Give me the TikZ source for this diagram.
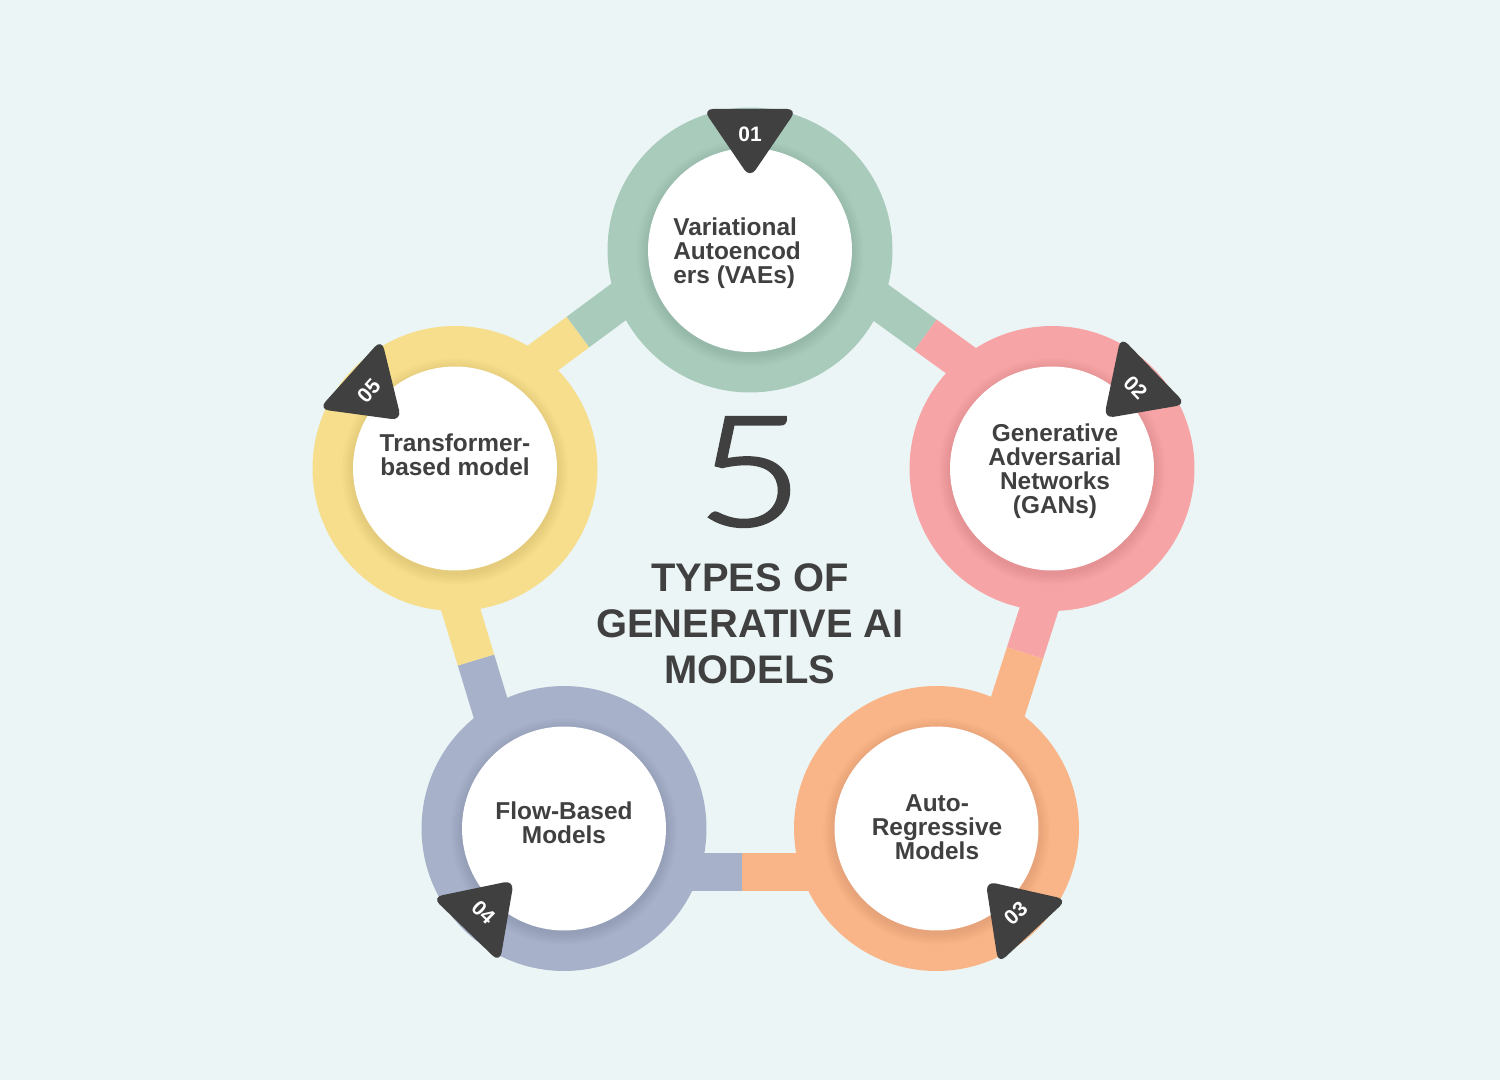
\documentclass[tikz,border=0pt]{standalone}
\usepackage{fontspec}
\usepackage{graphicx}
\setmainfont{Liberation Sans}
\newfontfamily\fivefont{Lato Light}[FakeBold=2]
\usetikzlibrary{calc}
\definecolor{bg}{HTML}{EBF5F5}
\definecolor{cgreen}{HTML}{A8CBBC}
\definecolor{cpink}{HTML}{F6A4A5}
\definecolor{corange}{HTML}{F9B587}
\definecolor{cblue}{HTML}{A7B2CA}
\definecolor{cyellow}{HTML}{F6DE8C}
\definecolor{dark}{HTML}{404040}
\tikzset{
  bar/.style={line width=0.76cm, line cap=butt},
  wcirc/.style={circle, fill=white, minimum size=4.08cm, inner sep=0pt},
  lbl/.style={font=\bfseries\fontsize{13.9}{13.6}\selectfont, text=dark, align=center, inner sep=0pt},
  badgefill/.style={fill=dark, rounded corners=0.2cm},
  badgetext/.style={font=\bfseries\fontsize{11.9}{12}\selectfont, text=white, inner sep=0pt}
}
\newcommand\mybadge[5]{% name, center, angle, text, textrot
  \begin{scope}[shift={(#2)}, rotate=#3-90]
    \fill[badgefill] (-47,141) -- (47,141) -- (0,72) -- cycle;
    \node[badgetext, rotate=#5] (#1) at (0,116) {#4};
  \end{scope}}
\newcommand\myshadow[1]{%
  \foreach \k in {1,...,9} {\fill[black, opacity=0.007] ($(#1)+(0,-3)$) circle[radius=2.04cm+\k*0.026cm];}}
\begin{document}
\begin{tikzpicture}[x=0.02cm,y=0.02cm]
\fill[bg] (0,0) rectangle (1500,1080);
\useasboundingbox (0,0) rectangle (1500,1080);
% ring centres
\coordinate (C1) at (750,830);
\coordinate (C2) at (1052,611.5);
\coordinate (C3) at (936.5,251.5);
\coordinate (C4) at (564,251.5);
\coordinate (C5) at (455,611.5);
% colour-change points on the connecting bars
\coordinate (M12) at (925.5,745);
\coordinate (M23) at (1025,427);
\coordinate (M34) at (742,208);
\coordinate (M45) at (476,420);
\coordinate (M51) at (578,748);
\coordinate (D12) at ($(M12)+(C2)-(C1)$);
\coordinate (D23) at ($(M23)+(C3)-(C2)$);
\coordinate (D34) at ($(M34)+(C4)-(C3)$);
\coordinate (D45) at ($(M45)+(C5)-(C4)$);
\coordinate (D51) at ($(M51)+(C1)-(C5)$);
% bars
\draw[bar, cgreen]  (M12) -- ($(M12)!(C1)!(D12)$);
\draw[bar, cpink]   (M12) -- ($(M12)!(C2)!(D12)$);
\draw[bar, cpink]   (M23) -- ($(M23)!(C2)!(D23)$);
\draw[bar, corange] (M23) -- ($(M23)!(C3)!(D23)$);
\draw[bar, corange] (M34) -- ($(M34)!(C3)!(D34)$);
\draw[bar, cblue]   (M34) -- ($(M34)!(C4)!(D34)$);
\draw[bar, cblue]   (M45) -- ($(M45)!(C4)!(D45)$);
\draw[bar, cyellow] (M45) -- ($(M45)!(C5)!(D45)$);
\draw[bar, cyellow] (M51) -- ($(M51)!(C5)!(D51)$);
\draw[bar, cgreen]  (M51) -- ($(M51)!(C1)!(D51)$);
% rings
\fill[cgreen]  (C1) circle[radius=2.85cm];
\fill[cpink]   (C2) circle[radius=2.85cm];
\fill[corange] (C3) circle[radius=2.85cm];
\fill[cblue]   (C4) circle[radius=2.85cm];
\fill[cyellow] (C5) circle[radius=2.85cm];
% shadows and white discs
\myshadow{C1}\myshadow{C2}\myshadow{C3}\myshadow{C4}\myshadow{C5}
\node[wcirc] (w1) at (C1) {};
\node[wcirc] (w2) at (C2) {};
\node[wcirc] (w3) at (C3) {};
\node[wcirc] (w4) at (C4) {};
\node[wcirc] (w5) at (C5) {};
% badges
\mybadge{b1}{C1}{90}{01}{0}
\mybadge{b2}{C2}{44}{02}{-46}
\mybadge{b3}{C3}{-47}{03}{43}
\mybadge{b4}{C4}{-134}{04}{-44}
\mybadge{b5}{C5}{138}{05}{48}
% labels
\node[lbl, align=left, anchor=west] (t1) at (673,827) {Variational\\Autoencod\\ers (VAEs)};
\node[lbl] (t2) at (1055,609) {Generative\\Adversarial\\Networks\\(GANs)};
\node[lbl] (t3) at (937,253) {Auto-\\Regressive\\Models};
\node[lbl] (t4) at (564,257) {Flow-Based\\Models};
\node[lbl] (t5) at (455,625) {Transformer-\\based model};
% centre
\node[font=\fivefont\fontsize{87}{87}\selectfont, text=dark, inner sep=0pt] (five) at (750,608) {\scalebox{1.2}[1]{5}};
\node[font=\bfseries\fontsize{22.7}{26.1}\selectfont, text=dark, align=center, inner sep=0pt] (title) at (750,456) {TYPES OF\\GENERATIVE AI\\MODELS};
\end{tikzpicture}
\end{document}
